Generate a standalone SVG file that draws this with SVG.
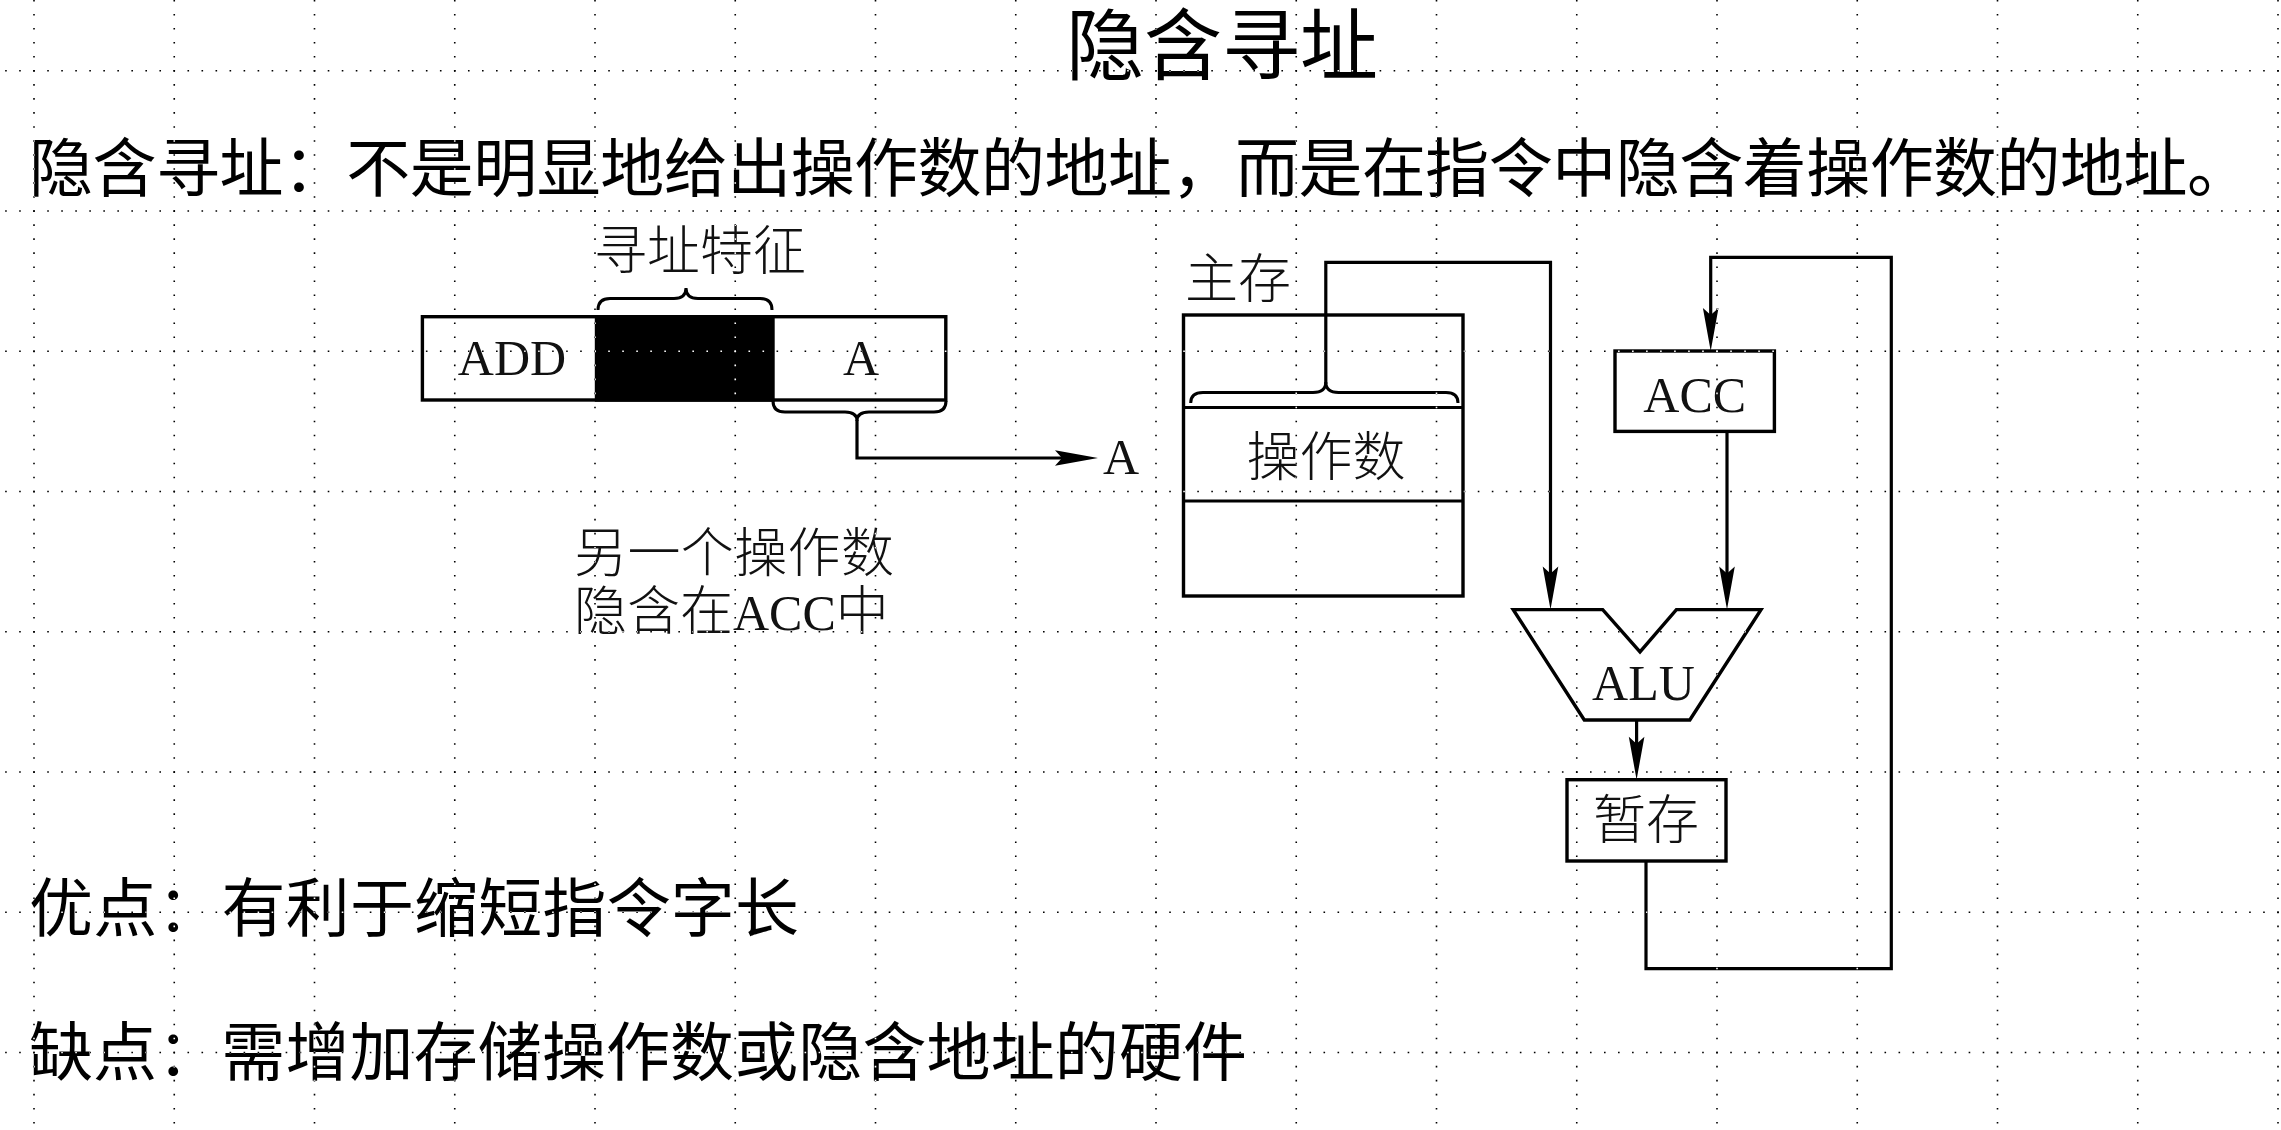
<svg xmlns="http://www.w3.org/2000/svg" width="2281" height="1130" viewBox="0 0 2281 1130">
<style>
.cjk{font-family:"Noto Sans CJK SC","Noto Sans",sans-serif;fill:#000}
.title{font-size:78px}
.body{font-size:64px}
.dcjk{font-family:"Noto Sans CJK SC",sans-serif;font-size:53px;font-weight:300;fill:#111}
.dlat{font-family:"Liberation Serif","Noto Sans CJK SC",serif;font-size:50px;fill:#111}
.box{fill:#fff;stroke:#000;stroke-width:3.4}
.ln{fill:none;stroke:#000;stroke-width:3.2;stroke-linejoin:miter}
.br{fill:none;stroke:#000;stroke-width:3}
.arr{marker-end:url(#ah)}
.gv,.gh{stroke:#fff;stroke-width:1.6;stroke-dasharray:1.6 12.425}
</style>
<defs>
<marker id="ah" markerUnits="userSpaceOnUse" markerWidth="50" markerHeight="20" viewBox="-35 -10 50 20" refX="0" refY="0" orient="auto" overflow="visible">
<path d="M12,0 L-31,-7.8 L-24,0 L-31,7.8 Z" fill="#000"/>
</marker>
</defs>
<rect x="0" y="0" width="2281" height="1130" fill="#fff"/>

<g id="title"><text class="cjk title" x="1222" y="74" text-anchor="middle">隐含寻址</text></g>
<g id="definition"><text class="cjk body" x="29" y="191" font-size="63.4" textLength="2222" lengthAdjust="spacing">隐含寻址：不是明显地给出操作数的地址，而是在指令中隐含着操作数的地址。</text></g>
<g id="pros"><text class="cjk body" x="29" y="931" textLength="770" lengthAdjust="spacing">优点：有利于缩短指令字长</text></g>
<g id="cons"><text class="cjk body" x="29" y="1075" textLength="1218" lengthAdjust="spacing">缺点：需增加存储操作数或隐含地址的硬件</text></g>

<g id="instruction">
<rect class="box" x="422.4" y="316.7" width="523.4" height="83.3" stroke-width="3.6"/>
<rect x="596.5" y="316.7" width="176.5" height="83.3" fill="#000" stroke="#000" stroke-width="3.4"/>
<text class="dlat" x="512" y="375" text-anchor="middle">ADD</text>
<text class="dlat" x="861" y="375" text-anchor="middle">A</text>
<path class="br" d="M598,310 Q598,298.5 610,298.5 L674,298.5 Q686,298.5 686,288 Q686,298.5 698,298.5 L760,298.5 Q772,298.5 772,310"/>
<text class="dcjk" x="700" y="270" text-anchor="middle">寻址特征</text>
<path class="br" d="M773,401 Q773,412 785,412 L845,412 Q857,412 857,421 M946,401 Q946,412 934,412 L869,412 Q857,412 857,421"/>
</g>

<g id="labels">
<text class="dlat" x="1103" y="474">A</text>
<text class="dcjk" x="574" y="572" textLength="320" lengthAdjust="spacing">另一个操作数</text>
<text class="dcjk" x="574" y="630">隐含在<tspan class="dlat" font-size="52">ACC</tspan>中</text>
</g>

<g id="memory">
<text class="dcjk" x="1185" y="298" font-size="52">主存</text>
<rect class="box" x="1183.5" y="315" width="279.5" height="281"/>
<line class="ln" x1="1183.5" y1="407.5" x2="1463" y2="407.5"/>
<line class="ln" x1="1183.5" y1="501" x2="1463" y2="501"/>
<text class="dcjk" x="1326" y="476" text-anchor="middle">操作数</text>
<path class="br" d="M1190.7,403 Q1190.7,392.5 1203,392.5 L1313,392.5 Q1325.8,392.5 1325.8,382 M1458,403 Q1458,392.5 1446,392.5 L1338.6,392.5 Q1325.8,392.5 1325.8,382"/>
</g>

<g id="acc">
<rect class="box" x="1615" y="351" width="159.4" height="80.4"/>
<text class="dlat" x="1694.7" y="411.5" text-anchor="middle">ACC</text>
</g>

<g id="alu">
<polygon class="box" points="1513.2,609.6 1602.7,609.6 1640,651.8 1676.4,609.6 1761,609.6 1689.8,720 1584.3,720"/>
<text class="dlat" x="1643.5" y="700" text-anchor="middle" font-size="52">ALU</text>
</g>

<g id="temp">
<rect class="box" x="1567" y="779.7" width="159" height="81.3"/>
<text class="dcjk" x="1646" y="839" text-anchor="middle">暂存</text>
</g>

<g id="connectors">
<path class="ln arr" d="M857,420 L857,458 L1086,458"/>
<path class="ln arr" d="M1325.8,384 L1325.8,262.3 L1550.5,262.3 L1550.5,597.6"/>
<path class="ln arr" d="M1727,431.4 L1727,597.6"/>
<path class="ln arr" d="M1636.6,720 L1636.6,767.7"/>
<path class="ln arr" d="M1646,861 L1646,968.7 L1891.3,968.7 L1891.3,257.3 L1710.7,257.3 L1710.7,339"/>
</g>

<g id="grid" style="mix-blend-mode:difference">
<line class="gv" x1="34" y1="-0.1" x2="34" y2="1130"/>
<line class="gv" x1="174.25" y1="-0.1" x2="174.25" y2="1130"/>
<line class="gv" x1="314.5" y1="-0.1" x2="314.5" y2="1130"/>
<line class="gv" x1="454.75" y1="-0.1" x2="454.75" y2="1130"/>
<line class="gv" x1="595" y1="-0.1" x2="595" y2="1130"/>
<line class="gv" x1="735.25" y1="-0.1" x2="735.25" y2="1130"/>
<line class="gv" x1="875.5" y1="-0.1" x2="875.5" y2="1130"/>
<line class="gv" x1="1015.75" y1="-0.1" x2="1015.75" y2="1130"/>
<line class="gv" x1="1156" y1="-0.1" x2="1156" y2="1130"/>
<line class="gv" x1="1296.25" y1="-0.1" x2="1296.25" y2="1130"/>
<line class="gv" x1="1436.5" y1="-0.1" x2="1436.5" y2="1130"/>
<line class="gv" x1="1576.75" y1="-0.1" x2="1576.75" y2="1130"/>
<line class="gv" x1="1717" y1="-0.1" x2="1717" y2="1130"/>
<line class="gv" x1="1857.25" y1="-0.1" x2="1857.25" y2="1130"/>
<line class="gv" x1="1997.5" y1="-0.1" x2="1997.5" y2="1130"/>
<line class="gv" x1="2137.75" y1="-0.1" x2="2137.75" y2="1130"/>
<line class="gv" x1="2278" y1="-0.1" x2="2278" y2="1130"/>
<line class="gh" x1="5.15" y1="70.8" x2="2281" y2="70.8"/>
<line class="gh" x1="5.15" y1="211.05" x2="2281" y2="211.05"/>
<line class="gh" x1="5.15" y1="351.3" x2="2281" y2="351.3"/>
<line class="gh" x1="5.15" y1="491.55" x2="2281" y2="491.55"/>
<line class="gh" x1="5.15" y1="631.8" x2="2281" y2="631.8"/>
<line class="gh" x1="5.15" y1="772.05" x2="2281" y2="772.05"/>
<line class="gh" x1="5.15" y1="912.3" x2="2281" y2="912.3"/>
<line class="gh" x1="5.15" y1="1052.55" x2="2281" y2="1052.55"/>
</g>
</svg>
